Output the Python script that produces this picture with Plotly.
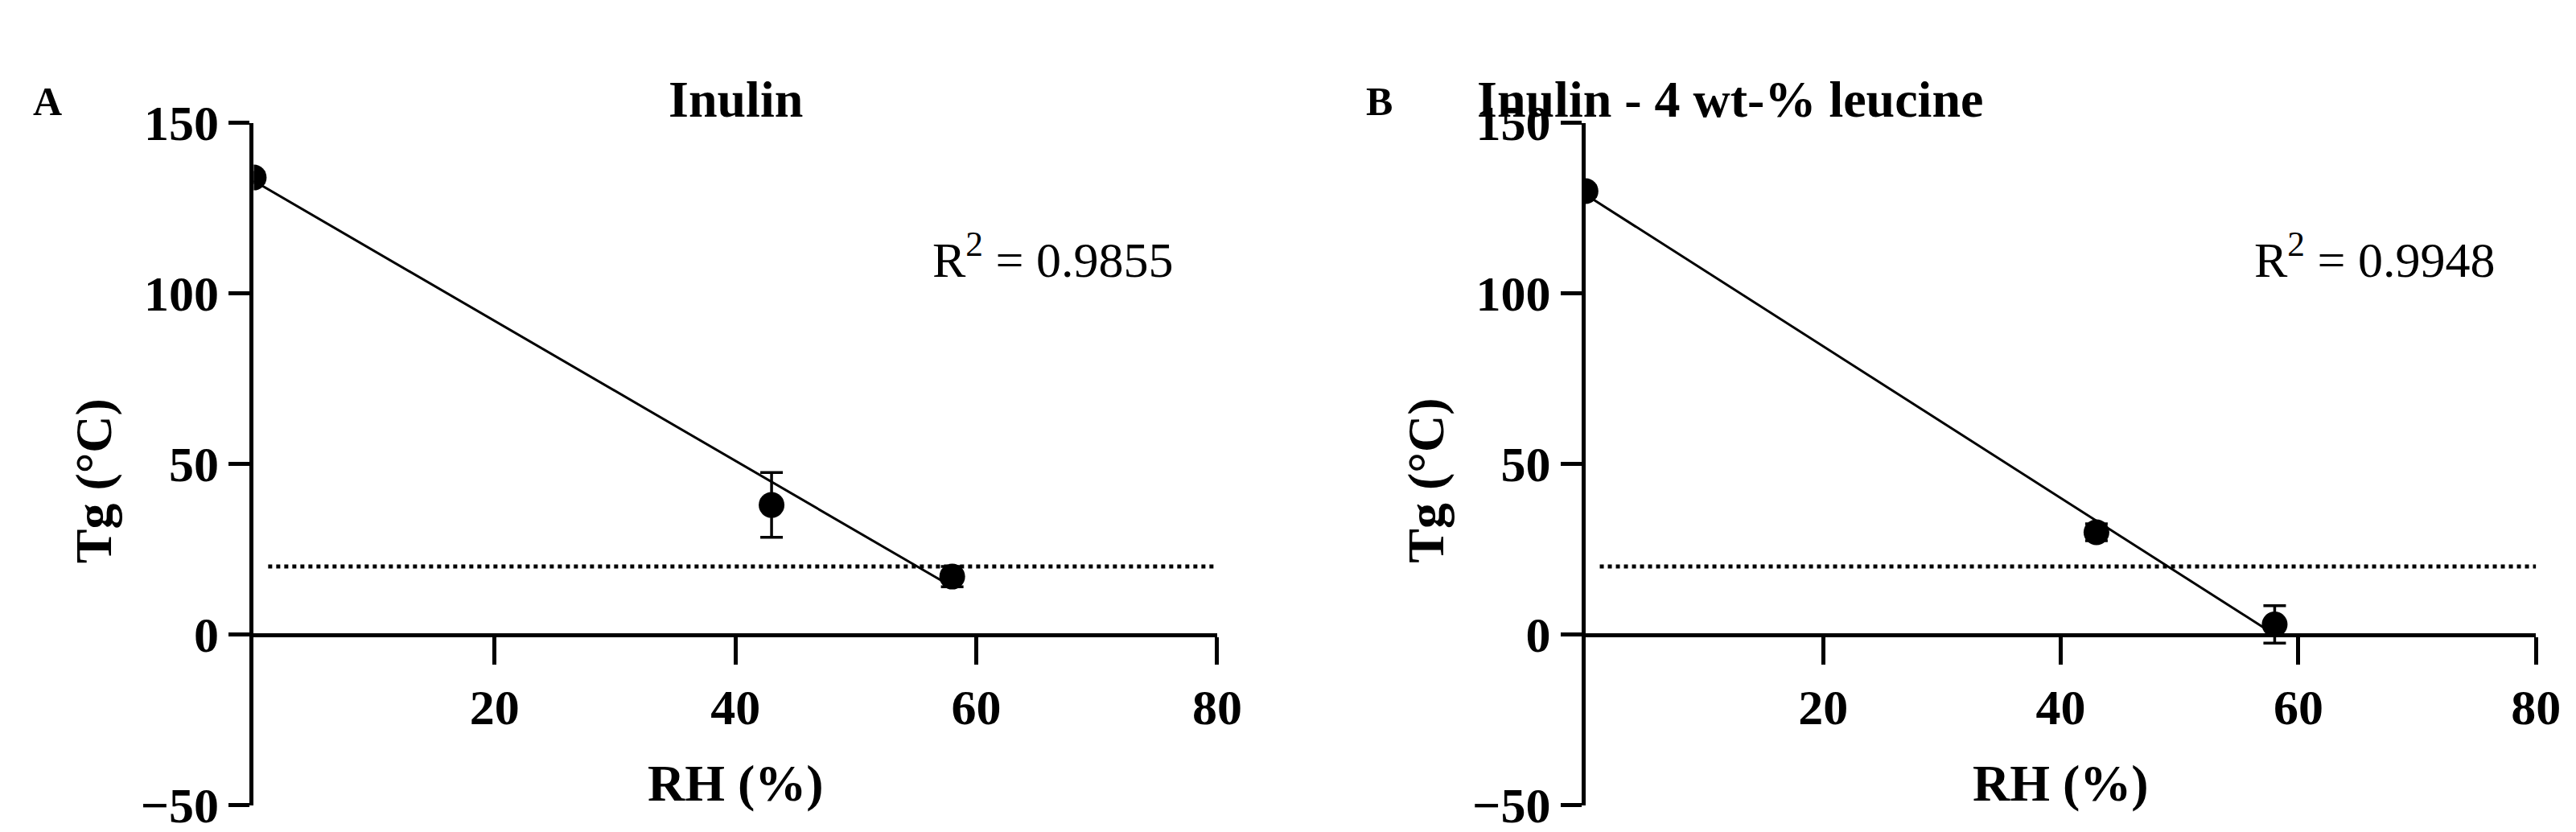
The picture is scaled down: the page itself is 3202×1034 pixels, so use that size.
import plotly.graph_objects as go

rh = [0, 43, 58]
tg_a = [134, 38, 17]
err_a = [1.5, 9.5, 3]
tg_b = [130, 30, 3]
err_b = [1.5, 2.5, 5.5]
fit_x = [0, 58]
fit_a = [133, 14]
fit_b = [129, 0]
ref_x = [1.2, 80]
ref_y = [20, 20]
titles = ["Inulin", "Inulin - 4 wt-% leucine"]
r2 = ["R<sup>2</sup> = 0.9855", "R<sup>2</sup> = 0.9948"]

FONT = "Liberation Serif"
fig = go.Figure()

panels = [("x", "y", tg_a, err_a, fit_a), ("x2", "y2", tg_b, err_b, fit_b)]
for xa, ya, tg, err, fit in panels:
    fig.add_trace(go.Scatter(x=ref_x, y=ref_y, xaxis=xa, yaxis=ya, mode="lines",
                             line=dict(color="black", width=5, dash="dot")))
    fig.add_trace(go.Scatter(x=fit_x, y=fit, xaxis=xa, yaxis=ya, mode="lines",
                             line=dict(color="black", width=3)))
    fig.add_trace(go.Scatter(x=rh, y=tg, xaxis=xa, yaxis=ya, mode="markers",
                             marker=dict(color="black", size=32),
                             error_y=dict(type="data", array=err, color="black",
                                          thickness=3.5, width=14)))

y0 = 0.04
yh = 0.82
zero_pos = y0 + 50 / 200 * yh
tickfont = dict(family=FONT, size=62, color="black", weight="bold")
xcommon = dict(range=[0, 80], tickvals=[20, 40, 60, 80], showline=True, linewidth=5,
               linecolor="black", ticks="outside", ticklen=34, tickwidth=5,
               tickcolor="black", showgrid=False, zeroline=False, tickfont=tickfont,
               anchor="free", position=zero_pos, automargin=False)
ycommon = dict(range=[-50, 150], tickvals=[-50, 0, 50, 100, 150], showline=True,
               linewidth=5, linecolor="black", ticks="outside", ticklen=26,
               tickwidth=5, tickcolor="black", showgrid=False, zeroline=False,
               tickfont=tickfont, domain=[y0, y0 + yh], automargin=False)

fig.update_layout(
    width=3202, height=1034, margin=dict(l=0, r=0, t=0, b=0),
    plot_bgcolor="white", paper_bgcolor="white", showlegend=False,
    xaxis=dict(domain=[0.096, 0.470], **xcommon),
    yaxis=dict(anchor="x", **ycommon),
    xaxis2=dict(domain=[0.613, 0.982], **xcommon),
    yaxis2=dict(anchor="x2", **ycommon),
)

bold = dict(family=FONT, size=64, color="black", weight="bold")
ann = []
for i, (x0, x1) in enumerate([(0.096, 0.470), (0.613, 0.982)]):
    cx = (x0 + x1) / 2
    tx = cx if i == 0 else 0.669
    ann.append(dict(text=titles[i], x=tx, y=0.925, xref="paper", yref="paper",
                    xanchor="center", showarrow=False, font=bold))
    ann.append(dict(text="RH (%)", x=cx, y=0.03, xref="paper", yref="paper",
                    xanchor="center", showarrow=False, font=bold))
    ann.append(dict(text="Tg (°C)", x=x0 - 0.062, y=0.43, xref="paper", yref="paper",
                    xanchor="center", showarrow=False, textangle=-90, font=bold))
    ann.append(dict(text=["A", "B"][i], x=x0 - 0.08, y=0.915, xref="paper",
                    yref="paper", xanchor="center", showarrow=False,
                    font=dict(family=FONT, size=50, color="black", weight="bold")))
    ann.append(dict(text=r2[i], x=x0 + 0.83 * (x1 - x0), y=0.74, xref="paper",
                    yref="paper", xanchor="center", showarrow=False,
                    font=dict(family=FONT, size=62, color="black")))
fig.update_layout(annotations=ann)

fig.write_html("out.html")
